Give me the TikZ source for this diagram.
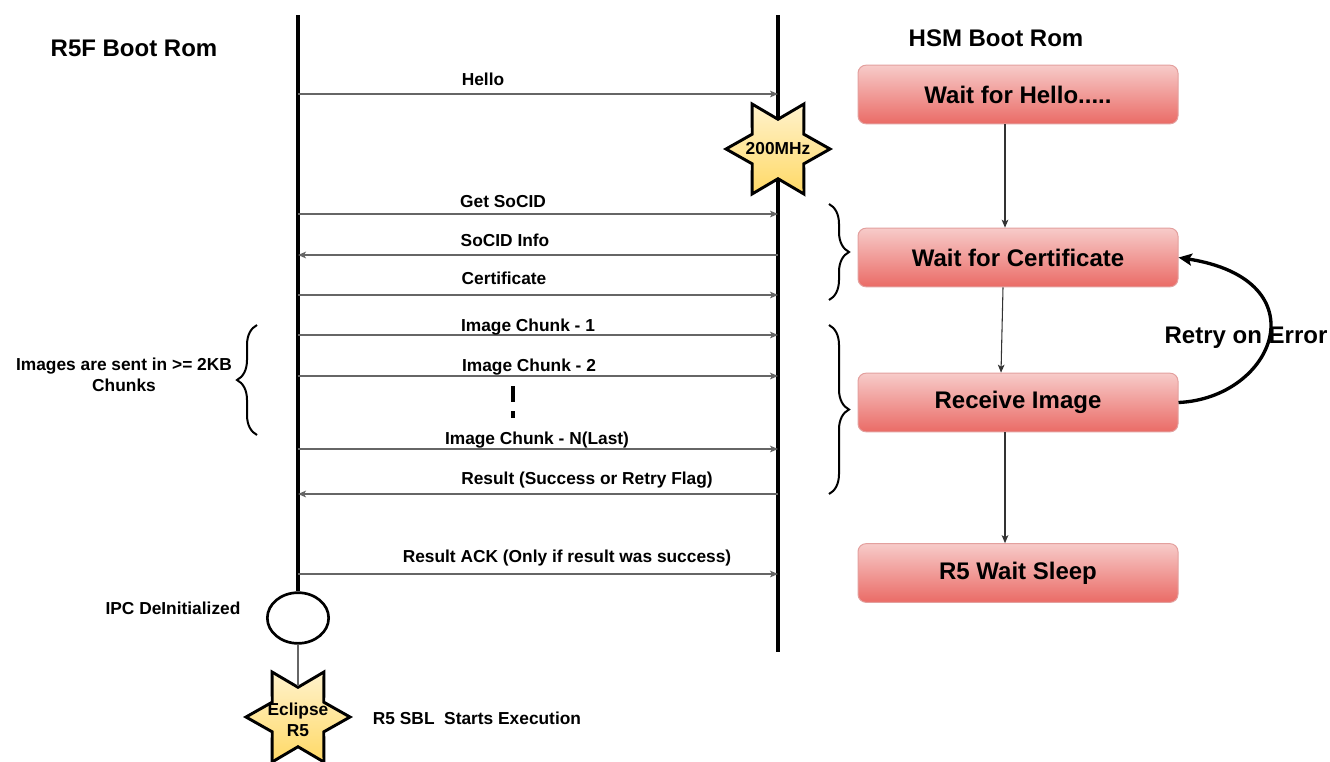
\documentclass[tikz,border=0pt]{standalone}
\usepackage{fontspec}
\setmainfont{Liberation Sans}
\usetikzlibrary{arrows.meta,shapes.geometric,decorations.pathreplacing,calc}

\definecolor{boxtop}{HTML}{F7CBC9}
\definecolor{boxbot}{HTML}{EA6B66}
\definecolor{boxline}{HTML}{E3A09E}
\definecolor{startop}{HTML}{FFF2CC}
\definecolor{starbot}{HTML}{FFD966}

\begin{document}
\begin{tikzpicture}[x=0.75pt, y=-0.75pt,
  >={Stealth[length=6pt,width=5pt,inset=1.5pt]},
  txt/.style={font=\bfseries\fontsize{13}{16}\selectfont, inner sep=0pt},
  big/.style={font=\bfseries\fontsize{18}{21}\selectfont, inner sep=0pt},
  lifeline/.style={line width=3pt},
  msg/.style={line width=0.9pt, draw=black!60},
  fwd/.style={->},
  bwd/.style={<-},
  flow/.style={->, line width=0.8pt, draw=black!80},
  state/.style={big, draw=boxline, line width=0.75pt, rounded corners=6pt,
    minimum width=240pt, minimum height=44pt, top color=boxtop, bottom color=boxbot},
  burst/.style={star, star points=6, star point ratio=1.75, shape border rotate=30,
    minimum size=78pt, inner sep=0pt, line width=2.2pt, draw=black,
    top color=startop, bottom color=starbot},
  brc/.style={decorate, decoration={brace, amplitude=15pt}, line width=1.5pt}]
  \useasboundingbox (0,0) rectangle (1330,761);

  % titles
  \node[big] (r5title) at (134,48) {R5F Boot Rom};
  \node[big] (hsmtitle) at (996,38) {HSM Boot Rom};

  % lifelines
  \coordinate (Ltop) at (298,15);
  \coordinate (Rtop) at (778,15);
  \coordinate (Rbot) at (778,652);
  \node[draw, ellipse, line width=2pt, minimum width=46pt, minimum height=38pt, inner sep=0pt]
    (ipc) at (298,618) {};
  \draw[lifeline] (Ltop) -- (ipc.north);
  \draw[lifeline] (Rtop) -- (Rbot);

  % messages
  \foreach \y/\dir/\txt/\lx/\ly [count=\i] in {
      94/fwd/Hello/483/85,
      214/fwd/Get SoCID/503/207,
      255/bwd/SoCID Info/505/246,
      295/fwd/Certificate/504/284,
      335/fwd/Image Chunk - 1/528/331,
      376/fwd/Image Chunk - 2/529/371,
      449/fwd/Image Chunk - N(Last)/537/444,
      494/bwd/Result (Success or Retry Flag)/587/484,
      574/fwd/Result ACK (Only if result was success)/567/562} {
    \draw[msg,\dir] (Ltop |- 0,\y) -- (Rtop |- 0,\y);
    \node[txt, anchor=base] (m\i) at (\lx,\ly) {\txt};
  }
  \draw[line width=3pt, dash pattern=on 12pt off 6.75pt] (513,386) -- (513,418);

  % clock star on the HSM side
  \node[burst] (mhz) at (778,149) {};
  \node[txt] (mhztxt) at (mhz) {200MHz};

  % end of the R5F side
  \node[burst] (eclipse) at (298,717) {};
  \node[txt, align=center] (eclipsetxt) at (298,720) {Eclipse\\R5};
  \draw[line width=0.8pt, draw=black!60] (ipc.south) -- (eclipse.north);
  \node[txt] (ipclbl) at (173,608) {IPC DeInitialized};
  \node[txt] (sbl) at (477,718) {R5 SBL\ \ Starts Execution};

  % chunk note
  \draw[brc] (257,435) -- (257,325);
  \node[txt, align=center] (chunks) at (124,375) {Images are sent in >= 2KB\\Chunks};

  % HSM states
  \node[state] (hello) at (1018,94.5) {Wait for Hello.....};
  \node[state] (cert) at (1018,257.5) {Wait for Certificate};
  \node[state] (recv) at (1018,402.5) {Receive Image};
  \node[state] (sleep) at (1018,573) {R5 Wait Sleep};

  \draw[flow] ($(hello.south)+(-13,0)$) -- ($(cert.north)+(-13,0)$);
  \draw[flow] ($(cert.south)+(-15,0)$) -- ($(recv.north)+(-17,0)$);
  \draw[flow] ($(recv.south)+(-13,0)$) -- ($(sleep.north)+(-13,0)$);

  \draw[-{Stealth[length=10pt,width=9pt,inset=2pt]}, line width=2.5pt]
    (recv.east) .. controls (1275,398) and (1322,280) .. (cert.east);
  \node[big] (retry) at (1246,338) {Retry on Error};

  % brackets at the states
  \draw[brc] (829,204) -- (829,300);
  \draw[brc] (829,325) -- (829,494);
\end{tikzpicture}
\end{document}
